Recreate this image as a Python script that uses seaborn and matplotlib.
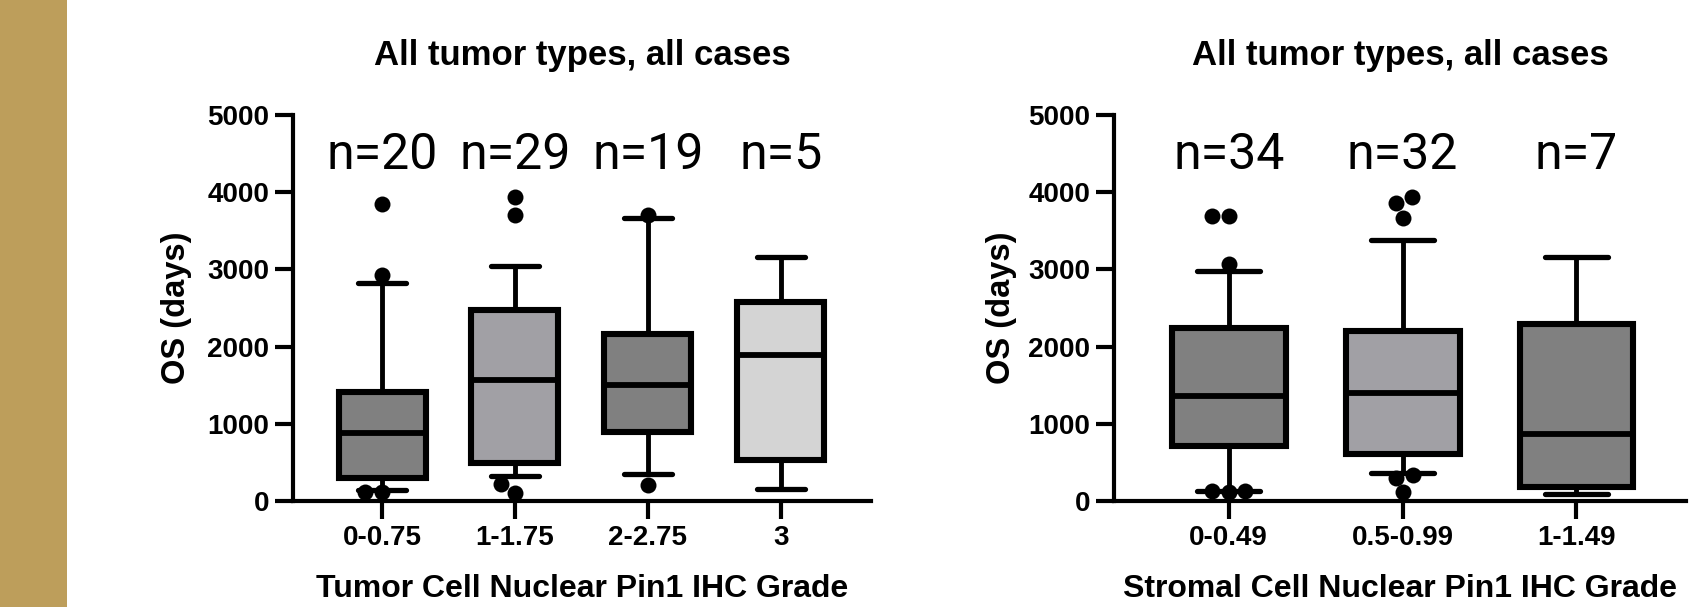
import matplotlib
matplotlib.use("Agg")
import matplotlib.pyplot as plt
import seaborn as sns
import pandas as pd
from matplotlib.patches import Rectangle

# ---------------- data ----------------
left_cats = ["0-0.75", "1-1.75", "2-2.75", "3"]
left_n = [20, 29, 19, 5]
left_wlo = [140, 330, 353, 151]
left_q1 = [292, 494, 897, 529]
left_med = [882, 1562, 1497, 1890]
left_q3 = [1411, 2470, 2167, 2581]
left_whi = [2823, 3049, 3664, 3160]
left_out = [[3846, 2923, 112, 118], [3942, 3705, 100, 218], [3705, 202], []]

right_cats = ["0-0.49", "0.5-0.99", "1-1.49"]
right_n = [34, 32, 7]
right_wlo = [136, 363, 91]
right_q1 = [706, 615, 186]
right_med = [1361, 1401, 872]
right_q3 = [2243, 2203, 2293]
right_whi = [2974, 3377, 3160]
right_out = [[3695, 3690, 3075, 112, 125, 130], [3856, 3942, 3664, 343, 302, 111], []]

DARK = "#808080"
MID = "#A1A0A5"
LIGHT = "#D4D4D4"
left_colors = [DARK, MID, DARK, LIGHT]
right_colors = [DARK, MID, DARK]

y_ticks = [0, 1000, 2000, 3000, 4000, 5000]

# ---------------- style ----------------
sns.set_style("ticks")
plt.rcParams['font.family'] = ['Liberation Sans', 'DejaVu Sans']
plt.rcParams['font.weight'] = 'bold'
plt.rcParams['axes.labelweight'] = 'bold'
plt.rcParams['axes.titleweight'] = 'bold'
plt.rcParams['text.color'] = 'black'
plt.rcParams['axes.labelcolor'] = 'black'
plt.rcParams['xtick.color'] = 'black'
plt.rcParams['ytick.color'] = 'black'

W, H = 1689, 607
fig = plt.figure(figsize=(W / 100, H / 100), dpi=100)
fig.patches.append(Rectangle((0, 0), 67 / W, 1, transform=fig.transFigure,
                             facecolor="#BD9E5B", edgecolor="none", zorder=0))


def box_frame(cats, wlo, q1, med, q3, whi):
    rows = []
    for c, a, b, m, d, e in zip(cats, wlo, q1, med, q3, whi):
        for v in (a, b, m, d, e):
            rows.append((c, v))
    return pd.DataFrame(rows, columns=["grade", "os"])


def out_frame(cats, outs):
    rows = [(c, v) for c, vals in zip(cats, outs) for v in vals]
    return pd.DataFrame(rows, columns=["grade", "os"])


def panel(ax, cats, n, wlo, q1, med, q3, whi, outs, colors, xlabel, xlim,
          ylabel_x):
    df = box_frame(cats, wlo, q1, med, q3, whi)
    sns.boxplot(data=df, x="grade", y="os", order=cats, hue="grade",
                hue_order=cats, palette=colors, legend=False, saturation=1,
                width=0.655, whis=(0, 100), linecolor="black", linewidth=4.4,
                capwidths=0.36, showfliers=False,
                whiskerprops=dict(linewidth=3.5),
                capprops=dict(linewidth=3.8, solid_capstyle="round"),
                medianprops=dict(linewidth=4.2, solid_capstyle="round"),
                ax=ax)
    odf = out_frame(cats, outs)
    sns.swarmplot(data=odf, x="grade", y="os", order=cats, color="black",
                  size=11.5, ax=ax, zorder=6, clip_on=False)
    for i, k in enumerate(n):
        ax.text(i, 4300, f"n={k}", ha="center", va="baseline", color="black",
                fontsize=36, fontweight="normal", family=["Roboto", "DejaVu Sans"])
    ax.set_xlim(*xlim)
    ax.set_ylim(0, 5000)
    ax.set_yticks(y_ticks)
    ax.set_yticklabels([str(t) for t in y_ticks])
    for s in ("top", "right"):
        ax.spines[s].set_visible(False)
    for s in ("left", "bottom"):
        ax.spines[s].set_linewidth(3)
        ax.spines[s].set_color("black")
    ax.tick_params(axis="both", width=3, length=13, labelsize=20,
                   colors="black", labelcolor="black", pad=4)
    ax.set_title("All tumor types, all cases", fontsize=25, pad=36, color="black")
    ax.set_xlabel(xlabel, fontsize=23, color="black")
    ax.xaxis.set_label_coords(0.5, -0.19)
    ax.set_ylabel("OS (days)", fontsize=23.5, color="black")
    ax.yaxis.set_label_coords(ylabel_x, 0.5)


axL = fig.add_axes([293 / W, 1 - 501 / H, (871 - 293) / W, (501 - 115) / H])
axR = fig.add_axes([1114 / W, 1 - 501 / H, (1686 - 1114) / W, (501 - 115) / H])
axL.patch.set_alpha(0)
axR.patch.set_alpha(0)

panel(axL, left_cats, left_n, left_wlo, left_q1, left_med, left_q3, left_whi,
      left_out, left_colors, "Tumor Cell Nuclear Pin1 IHC Grade",
      (-0.67, 3.68), -0.175)
panel(axR, right_cats, right_n, right_wlo, right_q1, right_med, right_q3,
      right_whi, right_out, right_colors, "Stromal Cell Nuclear Pin1 IHC Grade",
      (-0.66, 2.63), -0.17)

fig.savefig("out.png", dpi=100)
